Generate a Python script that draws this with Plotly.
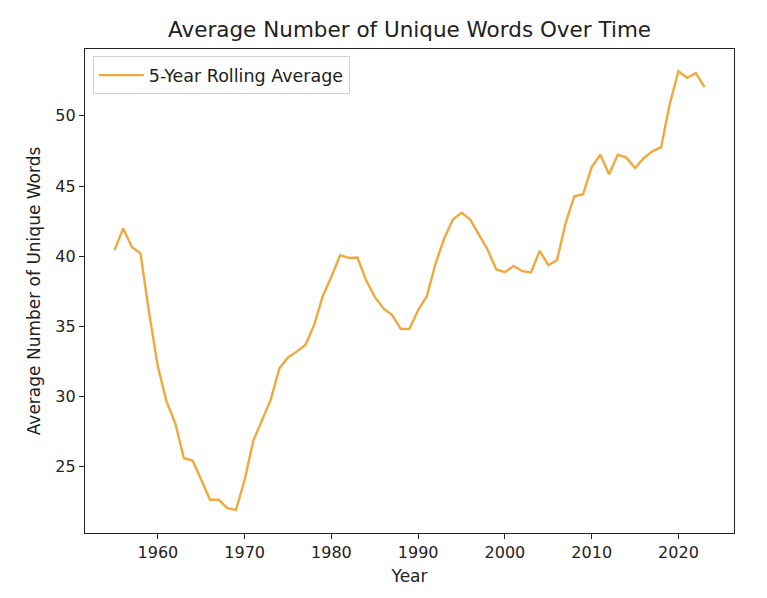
import plotly.graph_objects as go

years = list(range(1955, 2024))
rolling_avg = [
    40.43, 41.97, 40.66, 40.19, 35.92, 32.13, 29.64, 28.10, 25.61, 25.44,
    24.07, 22.65, 22.65, 22.05, 21.93, 24.07, 26.86, 28.34, 29.76, 32.01,
    32.79, 33.20, 33.67, 35.09, 37.15, 38.53, 40.07, 39.88, 39.90, 38.29,
    37.10, 36.28, 35.80, 34.81, 34.83, 36.16, 37.15, 39.48, 41.26, 42.61,
    43.10, 42.61, 41.49, 40.47, 39.05, 38.86, 39.31, 38.93, 38.84, 40.38,
    39.36, 39.72, 42.37, 44.27, 44.41, 46.35, 47.23, 45.83, 47.23, 47.02,
    46.28, 46.99, 47.47, 47.77, 50.86, 53.18, 52.71, 53.04, 52.04,
]
x_ticks = [1960, 1970, 1980, 1990, 2000, 2010, 2020]
y_ticks = [25, 30, 35, 40, 45, 50]

font_family = "DejaVu Sans"
line_color = "#F0A93E"

fig = go.Figure()
fig.add_trace(go.Scatter(
    x=years, y=rolling_avg, mode="lines",
    name="5-Year Rolling Average",
    line=dict(color=line_color, width=2.4),
))

axis_common = dict(
    showgrid=False, zeroline=False,
    showline=True, linecolor="#222", linewidth=1.2, mirror=True,
    ticks="outside", ticklen=5, tickwidth=1.2, tickcolor="#222",
    tickfont=dict(family=font_family, size=16, color="#222"),
)

fig.update_layout(
    width=767, height=598,
    margin=dict(l=85, r=33, t=49, b=65),
    paper_bgcolor="white", plot_bgcolor="white",
    font=dict(family=font_family, color="#222"),
    title=dict(
        text="Average Number of Unique Words Over Time",
        x=0.534, xanchor="center", y=0.95, yanchor="middle",
        font=dict(family=font_family, size=21.5, color="#222"),
    ),
    xaxis=dict(
        range=[1951.6, 2026.4], tickvals=x_ticks,
        title=dict(text="Year", font=dict(family=font_family, size=17, color="#222"), standoff=8),
        **axis_common,
    ),
    yaxis=dict(
        range=[20.28, 54.76], tickvals=y_ticks,
        title=dict(text="Average Number of Unique Words", font=dict(family=font_family, size=17, color="#222"), standoff=10),
        **axis_common,
    ),
    legend=dict(
        x=0.012, y=0.985, xanchor="left", yanchor="top",
        bgcolor="rgba(255,255,255,0.8)", bordercolor="#d0d0d0", borderwidth=1,
        font=dict(family=font_family, size=17.5, color="#222"),
        itemwidth=45,
    ),
    showlegend=True,
)

fig.write_html("out.html")
